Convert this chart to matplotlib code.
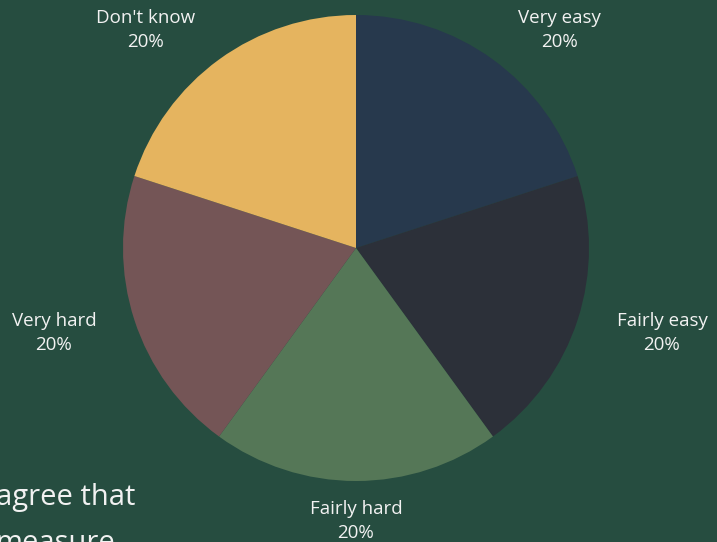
import matplotlib
matplotlib.use("Agg")
import matplotlib.pyplot as plt

categories = ["Very easy", "Fairly easy", "Fairly hard", "Very hard", "Don't know"]
shares = [20, 20, 20, 20, 20]
colors = ["#27394d", "#2c3039", "#557757", "#745556", "#e5b45f"]

BG = "#264d40"
W, H = 717, 542

fig = plt.figure(figsize=(W / 100, H / 100), dpi=100, facecolor=BG)
ax = fig.add_axes([0, 0, 1, 1])
ax.set_facecolor(BG)

cx, cy, r = 356, H - 248, 233
ax.pie(shares, colors=colors, startangle=90, counterclock=False,
       center=(cx, cy), radius=r, frame=True,
       wedgeprops=dict(linewidth=0))
ax.set_xlim(0, W)
ax.set_ylim(0, H)
ax.set_aspect("equal")
ax.axis("off")

# label anchors (centre of each two-line label)
label_pos = [(559, H - 30), (662, H - 333), (356, H - 521), (54, H - 333), (146, H - 30)]
for name, v, (lx, ly) in zip(categories, shares, label_pos):
    ax.text(lx, ly, f"{name}\n{v}%", ha="center", va="center", color="#f2f2f2",
            fontsize=13.5, family="Open Sans", linespacing=1.45)

# caption text running off the lower-left edge
ax.text(-4, H - 505, "agree that", ha="left", va="baseline", color="#f2f2f2",
        fontsize=21, family="Open Sans")
ax.text(-4, H - 551, "measure", ha="left", va="baseline", color="#f2f2f2",
        fontsize=21, family="Open Sans")

fig.savefig("out.png", dpi=100, facecolor=BG)
